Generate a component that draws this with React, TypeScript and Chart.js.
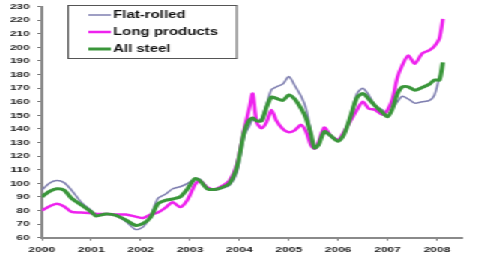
import React, { useEffect, useRef } from "react";
import { Chart, registerables } from "chart.js";

Chart.register(...registerables);

const seriesNames = ["Flat-rolled", "Long products", "All steel"];

const times = [
  2000.0, 2000.15, 2000.3, 2000.45, 2000.6, 2000.8, 2001.0, 2001.1, 2001.3, 2001.5,
  2001.7, 2001.9, 2002.05, 2002.2, 2002.35, 2002.5, 2002.65, 2002.8, 2002.95, 2003.1,
  2003.2, 2003.35, 2003.5, 2003.65, 2003.8, 2003.95, 2004.1, 2004.2, 2004.27, 2004.35,
  2004.45, 2004.55, 2004.65, 2004.75, 2004.88, 2005.0, 2005.12, 2005.25, 2005.35, 2005.45,
  2005.52, 2005.6, 2005.72, 2005.85, 2006.0, 2006.12, 2006.25, 2006.38, 2006.5, 2006.62,
  2006.75, 2006.9, 2007.0, 2007.1, 2007.2, 2007.3, 2007.42, 2007.55, 2007.7, 2007.85,
  2007.95, 2008.05, 2008.12,
];

const flatRolled = [
  95, 100, 102, 100.5, 95, 86, 80, 76.5, 77.5, 76.5,
  72, 66, 68, 76, 89, 92, 96, 97.5, 100, 103.5,
  103, 97, 95, 96.5, 98.5, 108, 135, 142, 147, 145,
  148, 158, 169, 171, 173, 178.5, 172, 164, 155, 138,
  126, 128, 138, 135, 131, 136, 150, 166, 170, 165,
  157, 154, 149, 155, 160, 164, 162, 159, 160, 161,
  165, 178, 187,
];

const longProducts = [
  80, 83, 85, 83, 79, 78.5, 78, 77.5, 77.5, 77,
  77, 75.5, 74.5, 77, 78.5, 82, 86, 82.5, 88, 99,
  102, 97, 95.5, 98, 102, 114, 140, 155, 166, 145,
  140.5, 145, 154, 146, 140, 137.5, 139, 143, 138, 128,
  125.5, 130, 141, 135, 132, 138, 146, 154, 160, 155,
  154, 150.5, 154, 162, 178, 187, 194, 188, 195.5, 198,
  201, 206.5, 221,
];

const allSteel = [
  90, 94, 96, 95, 89, 84, 79, 76, 77.5, 76.5,
  73, 69, 70.5, 75, 85, 87.5, 88.5, 90, 96, 103.5,
  102, 96, 95.5, 97, 100, 112, 138, 146.5, 148, 146,
  146, 156, 163.5, 162.5, 161, 165, 162, 155, 148, 136,
  126, 128, 138, 135, 131, 136, 149, 163, 166, 162,
  157, 152, 149, 155, 166, 171, 171, 168.5, 170.5, 173,
  176, 176, 189,
];

const yearTicks = [2000, 2001, 2002, 2003, 2004, 2005, 2006, 2007, 2008];

const colors = ["#7f7fb0", "#ee22ee", "#3a963a"];
const widths = [1.5, 2.5, 3];

const INNER_W = 319;
const INNER_H = 262;
const SX = 478 / INNER_W;

const legendPlugin = {
  id: "boxLegend",
  afterDraw(chart: any) {
    const ctx = chart.ctx;
    ctx.save();
    ctx.strokeStyle = "#555555";
    ctx.lineWidth = 1;
    ctx.fillStyle = "#ffffff";
    ctx.fillRect(45.5, 5.5, 112.5, 53);
    ctx.strokeRect(45.5, 5.5, 112.5, 53);
    const rows = [15, 32, 49];
    seriesNames.forEach((name, i) => {
      ctx.strokeStyle = colors[i];
      ctx.lineWidth = widths[i];
      ctx.beginPath();
      ctx.moveTo(59, rows[i]);
      ctx.lineTo(74, rows[i]);
      ctx.stroke();
      ctx.fillStyle = "#111111";
      ctx.font = "bold 10px 'Liberation Sans', Arial, sans-serif";
      ctx.textBaseline = "middle";
      ctx.textAlign = "left";
      ctx.fillText(name, 75.5, rows[i] + 0.5);
    });
    ctx.restore();
  },
};

export default function App() {
  const canvasRef = useRef<HTMLCanvasElement | null>(null);

  useEffect(() => {
    if (!canvasRef.current) return;
    const seriesList = [flatRolled, longProducts, allSteel];
    const chart = new Chart(canvasRef.current, {
      type: "line",
      data: {
        datasets: seriesList.map((vals, i) => ({
          label: seriesNames[i],
          data: times.map((t, j) => ({ x: t, y: vals[j] })),
          borderColor: colors[i],
          backgroundColor: colors[i],
          borderWidth: widths[i],
          pointRadius: 0,
          tension: 0.25,
          fill: false,
          order: 3 - i,
        })),
      },
      options: {
        animation: false,
        responsive: true,
        maintainAspectRatio: false,
        layout: { padding: { top: 6.6, left: 0, right: 11, bottom: 0 } },
        plugins: { legend: { display: false }, tooltip: { enabled: false } },
        scales: {
          x: {
            type: "linear",
            min: 2000,
            max: 2008.5,
            afterBuildTicks: (scale: any) => {
              scale.ticks = yearTicks.map((v) => ({ value: v }));
            },
            afterFit: (scale: any) => {
              scale.height = 24.3;
              scale.paddingLeft = 0;
              scale.paddingRight = 0;
            },
            grid: { drawOnChartArea: false, drawTicks: true, tickLength: 3, color: "#777777" },
            border: { display: true, color: "#8a8a8a", width: 2 },
            ticks: {
              autoSkip: false,
              maxRotation: 0,
              padding: 4,
              color: "#222222",
              font: { family: "'Liberation Sans', Arial, sans-serif", size: 8, weight: "bold" },
              callback: (v: any) => String(v),
            },
          },
          y: {
            min: 60,
            max: 230,
            afterFit: (scale: any) => {
              scale.width = 28;
              scale.paddingTop = 0;
              scale.paddingBottom = 0;
            },
            grid: { drawOnChartArea: false, drawTicks: true, tickLength: 3, color: "#777777" },
            border: { display: true, color: "#8a8a8a", width: 2 },
            ticks: {
              stepSize: 10,
              padding: 5,
              color: "#222222",
              font: { family: "'Liberation Sans', Arial, sans-serif", size: 8, weight: "bold" },
            },
          },
        },
      },
      plugins: [legendPlugin],
    });
    return () => chart.destroy();
  }, []);

  return (
    <div
      style={{
        position: "fixed",
        left: 0,
        top: 0,
        width: INNER_W,
        height: INNER_H,
        transform: `scaleX(${SX})`,
        transformOrigin: "0 0",
        background: "#ffffff",
      }}
    >
      <canvas ref={canvasRef} />
    </div>
  );
}
